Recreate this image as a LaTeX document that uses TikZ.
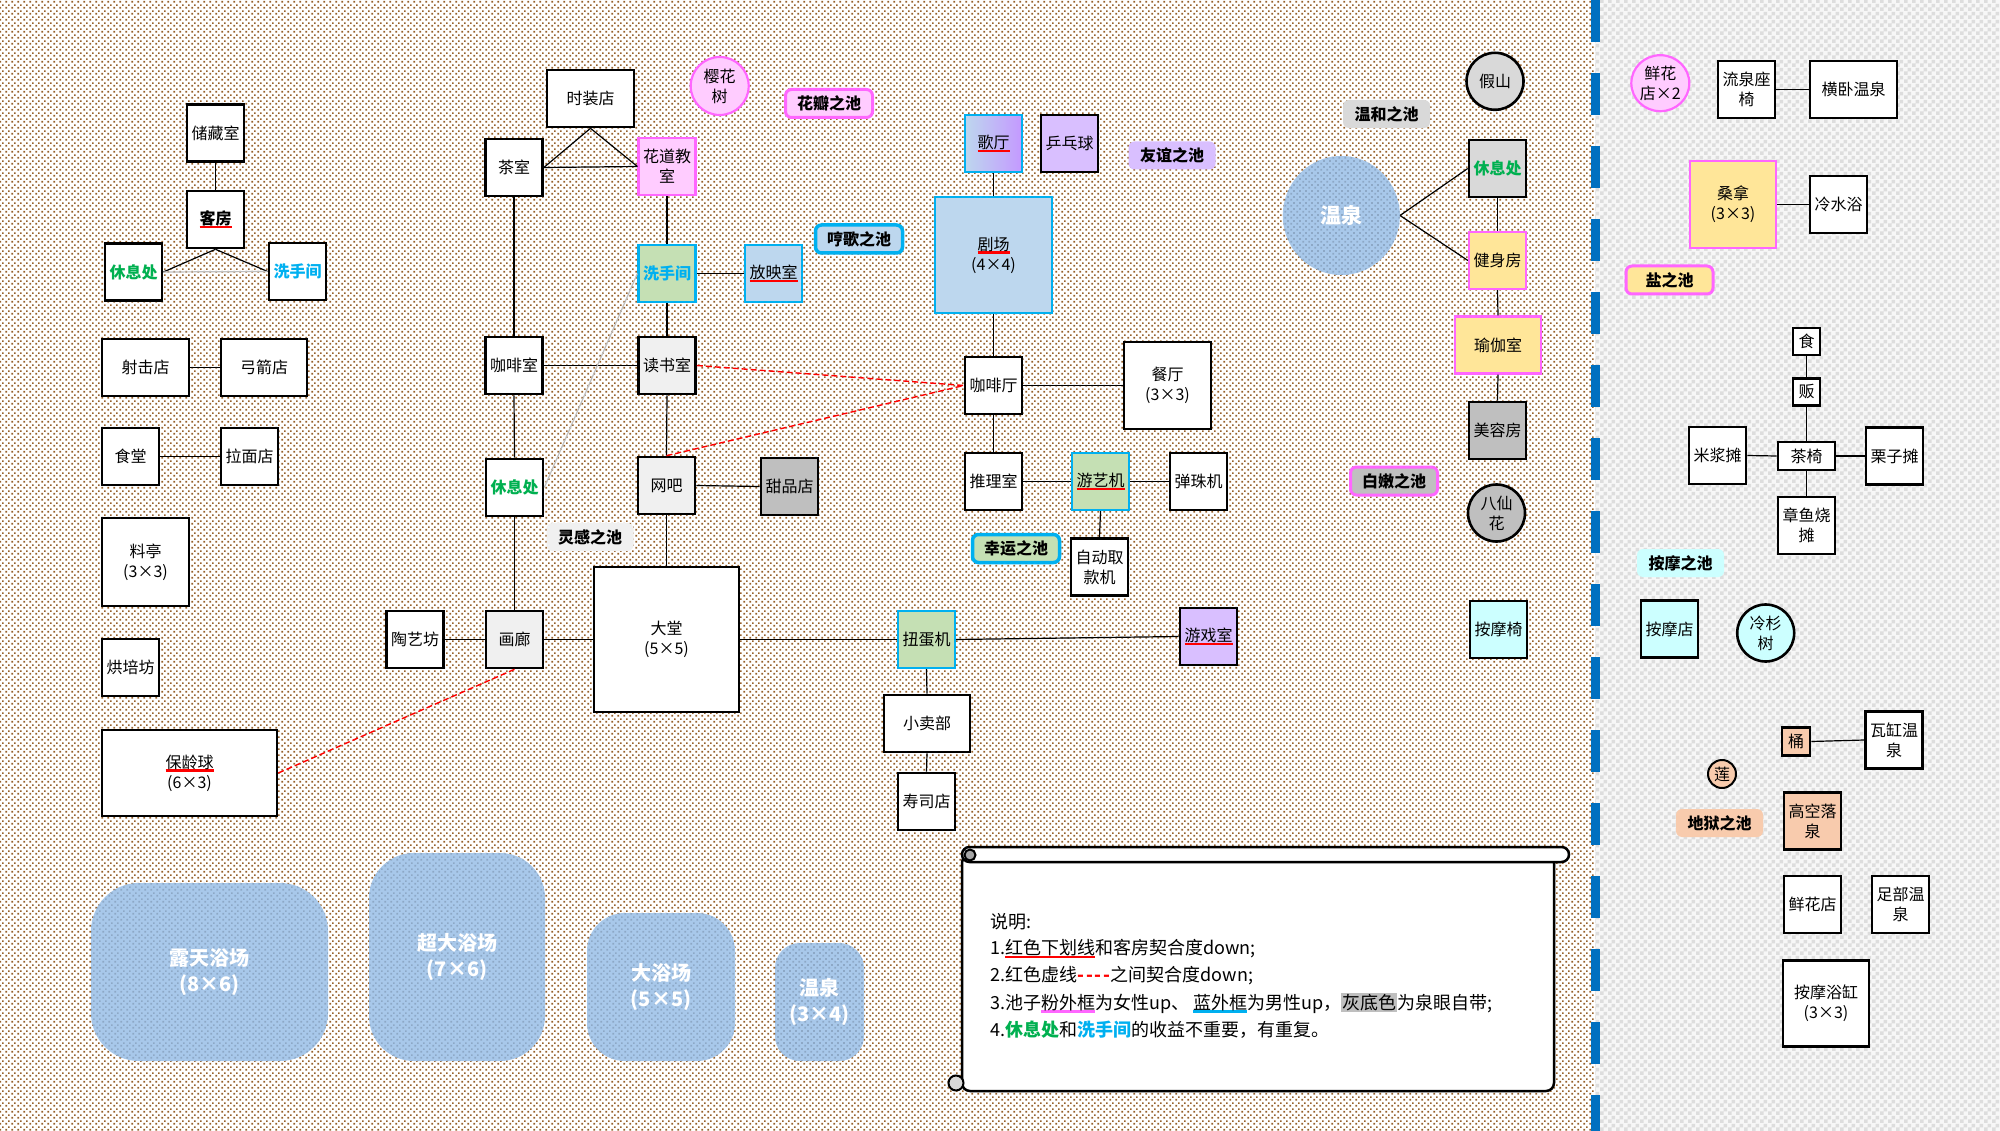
\documentclass[tikz,border=0pt]{standalone}
\usepackage{fontspec}
\setmainfont{Noto Sans CJK SC}
\usetikzlibrary{patterns,shapes.geometric}
\definecolor{brownc}{HTML}{96602A}
\definecolor{graychkc}{HTML}{DDDDDD}
\definecolor{graybase}{HTML}{F7F7F7}
\definecolor{bluedash}{HTML}{0070C0}
\definecolor{cyanb}{HTML}{00B0F0}
\definecolor{pinkb}{HTML}{FF66FF}
\definecolor{pinkf}{HTML}{FFCCFF}
\definecolor{greenf}{HTML}{C5E0B4}
\definecolor{lbf}{HTML}{BDD7EE}
\definecolor{purf}{HTML}{D9BFFF}
\definecolor{purf2}{HTML}{C499FF}
\definecolor{yelf}{HTML}{FFE699}
\definecolor{gzero}{HTML}{F0F0F0}
\definecolor{gone}{HTML}{D9D9D9}
\definecolor{gtwo}{HTML}{BFBFBF}
\definecolor{gthree}{HTML}{A6A6A6}
\definecolor{cyf}{HTML}{CCFFFF}
\definecolor{peach}{HTML}{F8CBAD}
\definecolor{poolc}{HTML}{A8C8EA}
\definecolor{pooldot}{HTML}{8DA8C6}
\definecolor{grn}{HTML}{00B050}
\pgfdeclarepatternformonly{browndots}{\pgfpointorigin}{\pgfpoint{6pt}{6pt}}{\pgfpoint{6pt}{6pt}}{%
 \pgfpathrectangle{\pgfpoint{0.5pt}{0.5pt}}{\pgfpoint{2pt}{2pt}}%
 \pgfpathrectangle{\pgfpoint{3.5pt}{3.5pt}}{\pgfpoint{2pt}{2pt}}%
 \pgfusepath{fill}}
\pgfdeclarepatternformonly{graychk}{\pgfpointorigin}{\pgfpoint{8pt}{8pt}}{\pgfpoint{8pt}{8pt}}{%
 \pgfpathrectangle{\pgfpointorigin}{\pgfpoint{4pt}{4pt}}%
 \pgfpathrectangle{\pgfpoint{4pt}{4pt}}{\pgfpoint{4pt}{4pt}}%
 \pgfusepath{fill}}
\newcommand\nodefont{\fontsize{16}{20}\selectfont}
\newcommand\lblfont{\fontsize{16}{20}\selectfont\bfseries}
\newcommand\bpfont{\fontsize{20}{26}\selectfont\bfseries}
\newcommand\wqfont{\fontsize{21}{26}\selectfont\bfseries}
\newcommand\legfont{\fontsize{18}{22}\selectfont}
\newsavebox\ulbox
\newcommand\ulc[2]{\sbox\ulbox{#2}\rlap{\color{#1}\rule[-3.5pt]{\wd\ulbox}{2.2pt}}\usebox\ulbox}
\newcommand\hlg[1]{{\setlength\fboxsep{1pt}\colorbox{gtwo}{#1}}}
\newcommand\xiuxi{\textcolor{grn}{\textbf{休息处}}}
\newcommand\xishou{\textcolor{cyanb}{\textbf{洗手间}}}
\newcommand\reddash{\textcolor{red}{\textbf{-\kern2pt-\kern2pt-\kern2pt-}}}
\begin{document}
\begin{tikzpicture}[x=1pt,y=-1pt,
 bx/.style={draw=black, line width=2.6pt, fill=white, inner sep=0pt, align=center, font=\nodefont, minimum width=57pt, minimum height=57pt},
 cyb/.style={draw=cyanb, line width=2.2pt},
 pkb/.style={draw=pinkb, line width=2.2pt},
 lbl/.style={rounded corners=6pt, inner sep=0pt, font=\lblfont, minimum height=28pt, minimum width=87pt},
 bigp/.style={fill=poolc, postaction={pattern=browndots, pattern color=pooldot}, text=white, font=\bpfont, align=center, inner sep=0pt},
 ln/.style={line width=1.2pt, black},
 lg/.style={line width=1.2pt, color=gtwo},
 rd/.style={red, line width=1.4pt, dash pattern=on 6pt off 3pt},
 leg/.style={font=\legfont, inner sep=0pt, anchor=west}]
\useasboundingbox (0,0) rectangle (2000,1131);
\fill[white] (0,0) rectangle (2000,1131);
\fill[pattern=browndots, pattern color=brownc] (0,0) rectangle (1595,1131);
\fill[graybase] (1595,0) rectangle (2000,1131);
\fill[pattern=graychk, pattern color=graychkc] (1595,0) rectangle (2000,1131);
\draw[bluedash, line width=9pt, dash pattern=on 42pt off 31pt] (1595,0) -- (1595,1131);

% left cluster
\node[bx] (chucang) at (215.5,133) {储藏室};
\node[bx] (kefang) at (215.5,219.5) {\ulc{red}{\textbf{客房}}};
\node[bx] (xiuxiL) at (133.5,272) {\xiuxi};
\node[bx] (xishouL) at (297.5,271.5) {\xishou};
\node[bx, minimum width=87pt] (sheji) at (145.5,367.5) {射击店};
\node[bx, minimum width=86pt] (gongjian) at (264,367.5) {弓箭店};
\node[bx] (shitang) at (130.5,456.5) {食堂};
\node[bx] (lamian) at (249.5,456.5) {拉面店};
\node[bx, minimum width=87pt, minimum height=88pt] (liaoting) at (145.5,562) {料亭\\(3×3)};
\node[bx] (hongpei) at (130.5,667.5) {烘培坊};
\node[bx, minimum width=175pt, minimum height=86pt] (baoling) at (189.5,773) {\ulc{red}{保龄球}\\(6×3)};

% middle
\node[bx, minimum width=87pt] (shizhuang) at (590.5,98.5) {时装店};
\node[bx, circle, fill=pinkf, draw=pinkb, line width=2.2pt, minimum size=58pt] (yinghua) at (719.7,86) {樱花\\树};
\node[lbl, fill=pinkf, draw=pinkb, line width=3pt] (huaban) at (829,103.5) {花瓣之池};
\node[bx] (chashi) at (514,167.5) {茶室};
\node[bx, fill=pinkf, pkb] (huadao) at (667,166.5) {花道教\\室};
\node[bx, fill=greenf, cyb] (xishouM) at (667,273.5) {\xishou};
\node[bx, fill=lbf, cyb] (fangying) at (773.5,273.5) {\ulc{red}{放映室}};
\node[lbl, fill=lbf, draw=cyanb, line width=3.5pt] (henge) at (859,239) {哼歌之池};
\node[bx] (kafeishi) at (514,365.5) {咖啡室};
\node[bx, fill=gzero] (dushu) at (667,365.5) {读书室};
\node[bx] (xiuxiM) at (514.5,487.5) {\xiuxi};
\node[bx, fill=gzero] (wangba) at (666.5,485.5) {网吧};
\node[bx, fill=gtwo] (tianpin) at (789.5,486.5) {甜品店};
\node[lbl, fill=gzero] (linggan) at (590,537) {灵感之池};
\node[bx] (taoyi) at (415,639.5) {陶艺坊};
\node[bx, fill=gzero] (hualang) at (514.5,639.5) {画廊};
\node[bx, minimum size=145pt] (datang) at (666.5,639.5) {大堂\\(5×5)};
\node[bx, fill=greenf, cyb] (niudan) at (926.5,639.5) {扭蛋机};
\node[bx, fill=purf] (youxishi) at (1208.5,636.5) {\ulc{red}{游戏室}};
\node[bx, minimum width=86pt] (xiaomai) at (927,723.5) {小卖部};
\node[bx] (shousi) at (926.5,801.5) {寿司店};
\node[bx, left color=lbf, right color=purf2, cyb] (geting) at (993.5,143.5) {\ulc{red}{歌厅}};
\node[bx, fill=purf] (pingpang) at (1069.5,143.5) {乒乓球};
\node[lbl, fill=purf] (youyi) at (1172,155.5) {友谊之池};
\node[bx, fill=lbf, cyb, minimum width=117pt, minimum height=116pt] (juchang) at (993.5,255) {\ulc{red}{剧场}\\(4×4)};
\node[bx] (kafeiting) at (993.5,385.5) {咖啡厅};
\node[bx, minimum size=87pt] (canting) at (1167.5,385.5) {餐厅\\(3×3)};
\node[bx] (tuili) at (993.5,481.5) {推理室};
\node[bx, fill=greenf, cyb] (youyiji) at (1100.5,481.5) {\ulc{red}{游艺机}};
\node[bx] (danzhu) at (1198.5,481.5) {弹珠机};
\node[lbl, fill=greenf, draw=cyanb, line width=3.5pt] (xingyun) at (1016,548.5) {幸运之池};
\node[bx] (atm) at (1099.5,567) {自动取\\款机};

% right middle
\node[ellipse, bigp, font=\wqfont, minimum width=117pt, minimum height=119pt] (wenquan) at (1341.3,215.5) {温泉};
\node[lbl, fill=gone] (wenhe) at (1386.5,114) {温和之池};
\node[bx, circle, fill=gone] (jiashan) at (1495,81.3) {假山};
\node[bx, fill=gone] (xiuxiR) at (1497.5,168.5) {\xiuxi};
\node[bx, fill=yelf, pkb] (jianshen) at (1497.5,260.5) {健身房};
\node[bx, fill=yelf, pkb, minimum width=86pt] (yujia) at (1498,345) {瑜伽室};
\node[bx, fill=gtwo] (meirong) at (1497.5,430.5) {美容房};
\node[lbl, fill=gtwo, draw=pinkb, line width=3pt] (bainen) at (1394,481) {白嫩之池};
\node[bx, circle, fill=gtwo] (baxian) at (1496.5,513) {八仙\\花};
\node[bx, fill=cyf] (anmoyi) at (1498.5,629.5) {按摩椅};

% right panel
\node[bx, ellipse, fill=pinkf, pkb, minimum width=58pt, minimum height=56pt] (xianhuaB) at (1660.3,83.2) {鲜花\\店×2};
\node[bx] (liuquan) at (1746.5,89.5) {流泉座\\椅};
\node[bx, minimum width=87pt] (hengwo) at (1853.5,89.5) {横卧温泉};
\node[bx, fill=yelf, pkb, minimum width=86pt, minimum height=87pt] (sangna) at (1733,204.5) {桑拿\\(3×3)};
\node[bx] (lengshui) at (1838.5,204.5) {冷水浴};
\node[lbl, fill=yelf, draw=pinkb, line width=3pt] (yan) at (1669.5,280) {盐之池};
\node[bx, minimum size=27pt] (shi) at (1806.5,341.5) {食};
\node[bx, minimum size=27pt] (fan) at (1806.5,392) {贩};
\node[bx, minimum height=28pt] (chayi) at (1806.5,456) {茶椅};
\node[bx] (mijiang) at (1717.5,455.5) {米浆摊};
\node[bx] (lizi) at (1894.5,456) {栗子摊};
\node[bx] (zhangyu) at (1806.5,525.5) {章鱼烧\\摊};
\node[lbl, fill=cyf] (anmo) at (1680.5,563) {按摩之池};
\node[bx, fill=cyf] (anmodian) at (1669.5,629) {按摩店};
\node[bx, circle, fill=cyf] (lengshan) at (1765.7,633) {冷杉\\树};
\node[bx, minimum size=28pt, fill=peach] (tong) at (1796,741.5) {桶};
\node[bx] (wagang) at (1894,740) {瓦缸温\\泉};
\node[bx, circle, minimum size=28pt, line width=2pt, fill=peach] (lian) at (1722,774) {莲};
\node[lbl, fill=peach] (diyu) at (1719.5,823) {地狱之池};
\node[bx, fill=peach] (gaokong) at (1812.5,821) {高空落\\泉};
\node[bx] (xianhua) at (1812.5,904.5) {鲜花店};
\node[bx] (zubu) at (1900.5,904.5) {足部温\\泉};
\node[bx, minimum size=86pt] (anmoyugang) at (1826,1003.5) {按摩浴缸\\(3×3)};

% big pools
\node[bigp, minimum width=237pt, minimum height=178pt, rounded corners=48pt] (lutian) at (209.5,972) {露天浴场\\(8×6)};
\node[bigp, minimum width=176pt, minimum height=208pt, rounded corners=45pt] (chaoda) at (457,957) {超大浴场\\(7×6)};
\node[bigp, minimum width=148pt, minimum height=148pt, rounded corners=38pt] (dayu) at (661,987) {大浴场\\(5×5)};
\node[bigp, minimum width=89pt, minimum height=118pt, rounded corners=25pt] (wqB) at (819.5,1002) {温泉\\(3×4)};

% legend scroll
\draw[line width=2.5pt, fill=white, rounded corners=8pt] (962,855) rectangle (1554,1091);
\draw[line width=2.5pt, fill=white, rounded corners=7.5pt] (962,847) rectangle (1569,862);
\draw[line width=2pt, fill=gthree] (970,855) circle (5.5pt);
\draw[line width=2pt, fill=gone] (956,1083) circle (7.5pt);
\node[leg] (lzero) at (990,922) {说明:};
\node[leg] (lone) at (990,949) {1.\ulc{red}{红色下划线}和客房契合度down;};
\node[leg] (ltwo) at (990,976) {2.红色虚线\reddash 之间契合度down;};
\node[leg] (lthree) at (990,1003) {3.池子\ulc{pinkb}{粉外框}为女性up、\ \ulc{cyanb}{蓝外框}为男性up，\hlg{灰底色}为泉眼自带;};
\node[leg] (lfour) at (990,1030) {4.\xiuxi 和\xishou 的收益不重要，有重复。};

% connectors
\draw[ln] (chucang.south) -- (kefang.north);
\draw[ln] (kefang.south) -- (xiuxiL.east);
\draw[ln] (kefang.south) -- (xishouL.west);
\draw[lg] (xiuxiL.east) -- (xishouL.west);
\draw[ln] (sheji.east) -- (gongjian.west);
\draw[ln] (shitang.east) -- (lamian.west);
\draw[ln] (shizhuang.south) -- (chashi.east);
\draw[ln] (shizhuang.south) -- (huadao.west);
\draw[ln] (chashi.east) -- (huadao.west);
\draw[ln] (chashi.south) -- (kafeishi.north);
\draw[ln] (huadao.south) -- (xishouM.north);
\draw[ln] (xishouM.east) -- (fangying.west);
\draw[ln] (xishouM.south) -- (dushu.north);
\draw[ln] (kafeishi.east) -- (dushu.west);
\draw[ln] (kafeishi.south) -- (xiuxiM.north);
\draw[ln] (xiuxiM.south) -- (hualang.north);
\draw[ln] (taoyi.east) -- (hualang.west);
\draw[ln] (hualang.east) -- (datang.west);
\draw[ln] (dushu.south) -- (wangba.north);
\draw[ln] (wangba.east) -- (tianpin.west);
\draw[ln] (wangba.south) -- (datang.north);
\draw[ln] (datang.east) -- (niudan.west);
\draw[ln] (niudan.east) -- (youxishi.west);
\draw[ln] (niudan.south) -- (xiaomai.north);
\draw[ln] (xiaomai.south) -- (shousi.north);
\draw[ln] (geting.south) -- (juchang.north);
\draw[ln] (juchang.south) -- (kafeiting.north);
\draw[ln] (kafeiting.east) -- (canting.west);
\draw[ln] (kafeiting.south) -- (tuili.north);
\draw[ln] (tuili.east) -- (youyiji.west);
\draw[ln] (youyiji.east) -- (danzhu.west);
\draw[ln] (youyiji.south) -- (atm.north);
\draw[ln] (wenquan.east) -- (xiuxiR.west);
\draw[ln] (wenquan.east) -- (jianshen.west);
\draw[ln] (xiuxiR.south) -- (jianshen.north);
\draw[ln] (jianshen.south) -- (yujia.north);
\draw[ln] (yujia.south) -- (meirong.north);
\draw[rd] (dushu.east) -- (kafeiting.west);
\draw[rd] (wangba.north) -- (kafeiting.west);
\draw[rd] (hualang.south) -- (baoling.east);
\draw[lg] (xiuxiM.east) -- (xishouM.west);
\draw[ln] (liuquan.east) -- (hengwo.west);
\draw[ln] (sangna.east) -- (lengshui.west);
\draw[ln] (shi.south) -- (fan.north);
\draw[ln] (fan.south) -- (chayi.north);
\draw[ln] (mijiang.east) -- (chayi.west);
\draw[ln] (chayi.east) -- (lizi.west);
\draw[ln] (chayi.south) -- (zhangyu.north);
\draw[ln] (tong.east) -- (wagang.west);
\end{tikzpicture}
\end{document}
